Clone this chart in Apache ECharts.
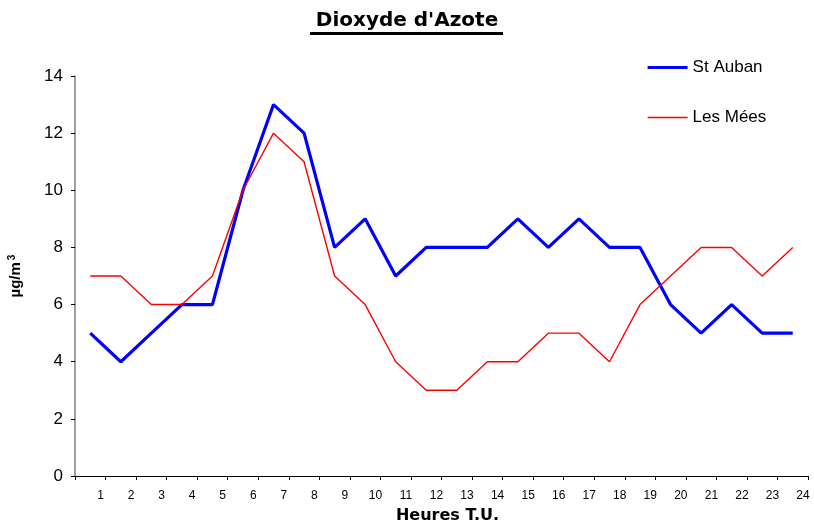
<!DOCTYPE html>
<html><head><meta charset="utf-8">
<script src="https://cdn.jsdelivr.net/npm/echarts@6/dist/echarts.min.js"></script>
<style>html,body{margin:0;padding:0;background:#fff}#c{width:814px;height:525px}</style>
</head><body><div id="c"></div>
<script>
var hours = ['1','2','3','4','5','6','7','8','9','10','11','12','13','14','15','16','17','18','19','20','21','22','23','24'];
var stAuban = [5,4,5,6,6,10,13,12,8,9,7,8,8,8,9,8,9,8,8,6,5,6,5,5];
var lesMees = [7,7,6,6,7,10,12,11,7,6,4,3,3,4,4,5,5,4,6,7,8,8,7,8];
var yTicks = [0,14,2];

var chart = echarts.init(document.getElementById('c'), null, {renderer:'canvas'});
var FONT = '"Liberation Sans", Arial, sans-serif';
var WIDE = '"DejaVu Sans", sans-serif';
chart.setOption({
  animation:false,
  backgroundColor:'#fff',
  title:{text:"Dioxyde d'Azote", left:'center', top:6,
    textStyle:{fontFamily:WIDE,fontSize:20,fontWeight:'bold',color:'#000'}},
  graphic:[{type:'rect', shape:{x:310,y:32,width:193,height:3}, style:{fill:'#000'}}],
  legend:{orient:'vertical', left:641, top:54, itemWidth:40, itemHeight:14, itemGap:33,
    itemStyle:{color:'rgba(0,0,0,0)', borderColor:'rgba(0,0,0,0)'},
    lineStyle:{width:'inherit'},
    textStyle:{fontFamily:FONT,fontSize:17,color:'#000'},
    data:['St Auban','Les Mées']},
  grid:{left:75, right:6, top:76, bottom:49, containLabel:false, outerBoundsMode:'none'},
  xAxis:[{
    type:'category', data:hours, boundaryGap:true,
    axisLine:{lineStyle:{color:'#000',width:1}},
    axisTick:{show:true,length:4,lineStyle:{color:'#000'}},
    axisLabel:{show:false},
    name:'Heures T.U.', nameLocation:'middle', nameGap:32,
    nameTextStyle:{fontFamily:WIDE,fontSize:16,fontWeight:'bold',color:'#000',padding:[0,0,0,12]}
  },{
    type:'value', min:0, max:hours.length, interval:1, position:'bottom',
    axisLine:{show:false}, axisTick:{show:false}, splitLine:{show:false},
    axisLabel:{margin:14, fontFamily:FONT, fontSize:12, color:'#000', padding:[0,10,0,0],
      formatter:function(v){return v===0?'':hours[v-1];}}
  }],
  yAxis:{type:'value', min:yTicks[0], max:yTicks[1], interval:yTicks[2],
    axisLine:{show:true,lineStyle:{color:'#808080',width:1.5}},
    axisTick:{show:true,length:4,lineStyle:{color:'#000'}},
    splitLine:{show:false},
    axisLabel:{margin:12,fontFamily:FONT,fontSize:17,color:'#000'},
    name:'{a|µg/m}{s|3}', nameLocation:'middle', nameGap:50, nameRotate:90,
    nameTextStyle:{fontFamily:FONT,fontSize:15,fontWeight:'bold',color:'#000',
      rich:{a:{fontFamily:FONT,fontSize:15,fontWeight:'bold',color:'#000'},
            s:{fontFamily:FONT,fontSize:10,fontWeight:'bold',color:'#000',verticalAlign:'top',padding:[0,0,8,2]}}}
  },
  series:[
    {name:'St Auban', type:'line', xAxisIndex:0, data:stAuban, symbol:'none',
      lineStyle:{color:'#0000ff',width:3.2}, itemStyle:{color:'#0000ff'}},
    {name:'Les Mées', type:'line', xAxisIndex:0, data:lesMees, symbol:'none',
      lineStyle:{color:'#ff0000',width:1.4}, itemStyle:{color:'#ff0000'}}
  ]
});
</script></body></html>
